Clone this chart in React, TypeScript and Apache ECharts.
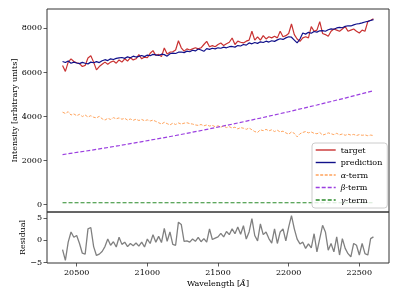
import React, { useEffect, useRef } from 'react';
import * as echarts from 'echarts';

const WL_START = 20400;
const WL_STEP = 20;

const target = [
  6300, 6030, 6450, 6600, 6480, 6420, 6380, 6250, 6300, 6640,
  6740, 6450, 6100, 6250, 6350, 6450, 6350, 6450, 6500, 6400,
  6550, 6450, 6600, 6500, 6650, 6550, 6600, 6790, 6600, 6680,
  6650, 6850, 6970, 6750, 6800, 6700, 7090, 6820, 6900, 6920,
  7000, 7420, 7100, 6950, 7050, 7000, 7050, 7100, 7050, 7100,
  7250, 7390, 7150, 7200, 7150, 7250, 7320, 7200, 7280, 7350,
  7545, 7250, 7400, 7350, 7320, 7400, 7450, 7850, 7450, 7600,
  7450, 7650, 7500, 7600, 7550, 7620, 7550, 7850, 7600, 7650,
  7750, 8180, 7700, 7500, 7390, 7550, 7600, 7550, 8060, 7850,
  7900, 8290, 7750, 7700, 7620, 7850, 7950, 7900, 7850, 7950,
  8060, 7850, 7900, 7950, 7850, 7770, 7900, 7850, 8290, 8350,
  8420,
];

const prediction = [
  6480, 6430, 6500, 6400, 6450, 6410, 6380, 6440, 6400, 6370,
  6450, 6420, 6470, 6430, 6510, 6560, 6520, 6600, 6570, 6620,
  6640, 6660, 6620, 6690, 6650, 6720, 6680, 6710, 6750, 6700,
  6770, 6740, 6800, 6780, 6750, 6810, 6790, 6720, 6830, 6860,
  6840, 6900, 6910, 6880, 6950, 6920, 6990, 6960, 7045, 7000,
  6940, 7060, 7030, 7080, 7050, 7100, 7080, 7130, 7100, 7150,
  7160, 7130, 7200, 7180, 7250, 7220, 7320, 7280, 7340, 7300,
  7370, 7340, 7400, 7360, 7420, 7390, 7460, 7510, 7480, 7550,
  7600, 7580, 7450, 7320, 7500, 7770, 7720, 7800, 7760, 7840,
  7810, 7870, 7880, 7850, 7920, 7960, 7940, 8000, 8030, 8010,
  8070, 8100, 8090, 8140, 8180, 8200, 8230, 8270, 8300, 8340,
  8380,
];

const alphaTerm = [
  4180, 4120, 4200, 4050, 4100, 4020, 4080, 3980, 4050, 3960,
  4020, 3950, 3920, 3990, 3880, 3820, 3900, 3850, 3930, 3880,
  3920, 3860, 3900, 3820, 3870, 3810, 3860, 3800, 3850, 3790,
  3830, 3780, 3820, 3760, 3700, 3640, 3720, 3660, 3600, 3680,
  3620, 3690, 3640, 3680, 3700, 3660, 3640, 3600, 3580, 3620,
  3560, 3600, 3550, 3580, 3520, 3560, 3500, 3550, 3480, 3520,
  3460, 3500, 3420, 3480, 3450, 3400, 3460, 3380, 3300, 3260,
  3380, 3340, 3400, 3330, 3380, 3300, 3360, 3280, 3320, 3240,
  3180, 3280, 3220, 3060, 3200, 3260, 3300, 3240, 3280, 3220,
  3200, 3260, 3140, 3180, 3240, 3200, 3160, 3220, 3150, 3190,
  3130, 3180, 3140, 3170, 3120, 3160, 3130, 3150, 3110, 3140,
  3120,
];

const betaWavelengths = [20400, 20600, 20800, 21000, 21200, 21400, 21600, 21800, 22000, 22200, 22400, 22600];
const betaTerm = [2255, 2450, 2660, 2885, 3120, 3370, 3635, 3910, 4200, 4505, 4820, 5150];

const gammaWavelengths = [20400, 21000, 21600, 22200, 22600];
const gammaTerm = [70, 70, 70, 70, 70];

const residual = [
  -2.2, -4.6, -0.5, 1.8, 0.6, 1.0, -0.8, -3.0, -3.2, 2.5,
  2.8, -1.5, -3.5, -3.2, -2.6, -1.5, 0.2, -1.2, -0.4, -1.6,
  0.6, -1.0, -0.5, -1.5, -0.8, -1.3, -0.7, -1.4, -0.5, -1.6,
  0.2, -0.8, 1.2, -0.5, 0.8, -0.6, 2.6, -0.3, 1.8, -1.0,
  -1.2, 4.0, 3.5, -0.3, -0.2, -0.5, 0.2, -0.3, 0.6, -0.4,
  0.3, -0.5, 2.5, 0.1, 0.4, 0.7, 1.5, 0.7, 1.9, 1.2,
  2.5, 1.4, 2.9, 1.3, 3.2, 0.2, 1.8, 4.8, 1.0, -0.2,
  3.6, 1.2, 1.8, 0.3, -0.7, 2.5, -0.8, 1.8, 2.5, -0.2,
  2.9, 5.5, 2.5, 0.2, -0.9, -0.5, -1.9, -0.9, -1.8, 1.4,
  -2.7, 0.3, 3.3, 1.8, -2.3, -0.8, -2.7, 0.7, -3.4, 0.3,
  -1.9, -3.1, -3.8, -0.8, -1.2, -3.4, -0.8, -3.1, -3.4, 0.3,
  0.7,
];

const intensityTicks = [0, 2000, 4000, 6000, 8000];
const residualTicks = [-5, 0, 5];
const wavelengthTicks = [20500, 21000, 21500, 22000, 22500];

const FONT = 'DejaVu Serif';

export default function App() {
  const ref = useRef<HTMLDivElement>(null);
  useEffect(() => {
    const chart = echarts.init(ref.current!, null, { renderer: 'svg' });
    const grid = (arr: number[]) => arr.map((v, i) => [WL_START + i * WL_STEP, v]);
    const pair = (xs: number[], ys: number[]) => xs.map((x, i) => [x, ys[i]]);
    const tickStyle = { color: '#333', width: 0.8 };
    const labelStyle = { fontFamily: FONT, fontSize: 8, color: '#000' };
    const xMin = 20290;
    const xMax = 22710;
    const option: any = {
      animation: false,
      grid: [
        { left: 47, right: 10, top: 9, height: 203, show: true, borderColor: '#333', borderWidth: 1, containLabel: false },
        { left: 47, right: 10, top: 212, height: 51, show: true, borderColor: '#333', borderWidth: 1, containLabel: false },
      ],
      xAxis: [
        {
          gridIndex: 0, type: 'value', min: xMin, max: xMax,
          axisLine: { show: false, onZero: false }, axisTick: { show: false }, axisLabel: { show: false }, splitLine: { show: false },
        },
        {
          gridIndex: 1, type: 'value', min: xMin, max: xMax, position: 'bottom',
          axisLine: { show: false, onZero: false },
          axisTick: { show: true, length: 3.5, customValues: wavelengthTicks, lineStyle: tickStyle },
          axisLabel: { ...labelStyle, customValues: wavelengthTicks, margin: 5, formatter: (v: number) => String(v) },
          splitLine: { show: false },
          name: 'Wavelength [{i|Å}]', nameLocation: 'middle', nameGap: 16, nameMoveOverlap: false,
          nameTextStyle: { ...labelStyle, rich: { i: { fontFamily: FONT, fontSize: 8, fontStyle: 'italic' } } },
        },
      ],
      yAxis: [
        {
          gridIndex: 0, type: 'value', min: -350, max: 8860,
          axisLine: { show: false, onZero: false },
          axisTick: { show: true, length: 3.5, customValues: intensityTicks, lineStyle: tickStyle },
          axisLabel: { ...labelStyle, customValues: intensityTicks, margin: 5, formatter: (v: number) => String(v) },
          splitLine: { show: false },
          name: 'Intensity [arbitrary units]', nameLocation: 'middle', nameGap: 29, nameMoveOverlap: false,
          nameTextStyle: labelStyle,
        },
        {
          gridIndex: 1, type: 'value', min: -5.2, max: 6.3,
          axisLine: { show: false, onZero: false },
          axisTick: { show: true, length: 3.5, customValues: residualTicks, lineStyle: tickStyle },
          axisLabel: { ...labelStyle, customValues: residualTicks, margin: 5, formatter: (v: number) => String(v).replace('-', '\u2212') },
          splitLine: { show: false },
          name: 'Residual', nameLocation: 'middle', nameGap: 21, nameMoveOverlap: false,
          nameTextStyle: labelStyle,
        },
      ],
      legend: {
        data: ['target', 'prediction', 'α-term', 'β-term', 'γ-term'],
        orient: 'vertical', left: 312, top: 143,
        itemWidth: 20, itemHeight: 8, itemGap: 4.5,
        padding: [3, 5, 4, 3],
        borderColor: '#cccccc', borderWidth: 1, borderRadius: 3,
        backgroundColor: 'rgba(255,255,255,0.8)',
        itemStyle: { opacity: 0 },
        lineStyle: { width: 1.4 },
        textStyle: { ...labelStyle, rich: { i: { fontFamily: FONT, fontSize: 8, fontStyle: 'italic', color: '#000' } } },
        formatter: (n: string) => n.replace(/^([αβγ])/, '{i|$1}'),
      },
      series: [
        { name: 'target', type: 'line', xAxisIndex: 0, yAxisIndex: 0, data: grid(target), symbol: 'none', lineStyle: { color: '#c93232', width: 1.2 }, itemStyle: { color: '#c93232' } },
        { name: 'prediction', type: 'line', xAxisIndex: 0, yAxisIndex: 0, data: grid(prediction), symbol: 'none', lineStyle: { color: '#11118a', width: 1.2 }, itemStyle: { color: '#11118a' } },
        { name: 'α-term', type: 'line', xAxisIndex: 0, yAxisIndex: 0, data: grid(alphaTerm), symbol: 'none', lineStyle: { color: '#ffa35c', width: 1, type: [3, 1.5] }, itemStyle: { color: '#ffa35c' } },
        { name: 'β-term', type: 'line', xAxisIndex: 0, yAxisIndex: 0, data: pair(betaWavelengths, betaTerm), symbol: 'none', lineStyle: { color: '#9b3fe0', width: 1.2, type: [4, 2] }, itemStyle: { color: '#9b3fe0' } },
        { name: 'γ-term', type: 'line', xAxisIndex: 0, yAxisIndex: 0, data: pair(gammaWavelengths, gammaTerm), symbol: 'none', lineStyle: { color: '#2a8a2a', width: 1.2, type: [4, 2] }, itemStyle: { color: '#2a8a2a' } },
        { name: 'residual', type: 'line', xAxisIndex: 1, yAxisIndex: 1, data: grid(residual), symbol: 'none', lineStyle: { color: '#808080', width: 1.3 }, itemStyle: { color: '#808080' } },
      ],
    };
    chart.setOption(option);
    return () => chart.dispose();
  }, []);
  return <div ref={ref} style={{ position: 'fixed', left: 0, top: 0, width: 399, height: 299 }} />;
}
